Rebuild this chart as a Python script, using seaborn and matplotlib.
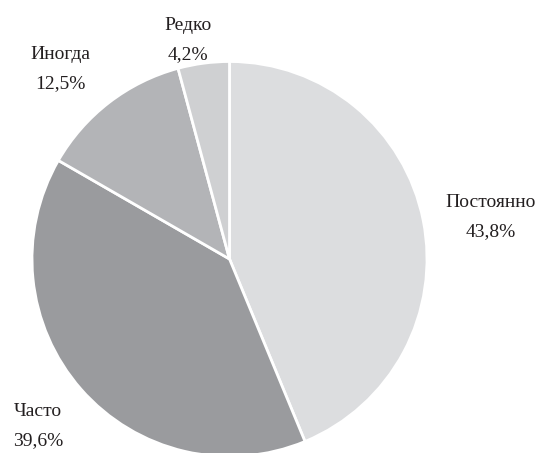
import matplotlib
matplotlib.use("Agg")
import matplotlib.pyplot as plt
import seaborn as sns

# data
categories = ["Постоянно", "Часто", "Иногда", "Редко"]
shares = [43.8, 39.6, 12.5, 4.2]
colors = ["#dcdddf", "#9a9b9e", "#b3b4b7", "#cfd0d2"]

# label layout: (x centre, baseline of the name line), pixels from top-left
label_pos = [(491, 207), (38, 416), (60, 59), (188, 30)]
line_gap = 29

sns.set_theme(style="white")
plt.rcParams["font.family"] = ["Liberation Serif", "DejaVu Serif"]

W, H = 547, 453
fig = plt.figure(figsize=(W / 100, H / 100), dpi=100)
ax = fig.add_axes([0, 0, 1, 1])

text_style = dict(fontsize=14, color="#231f20")

wedges, texts = ax.pie(
    shares,
    labels=categories,
    colors=colors,
    startangle=90,
    counterclock=False,
    center=(229.5, H - 259),
    radius=197.5,
    wedgeprops=dict(edgecolor="white", linewidth=2),
    textprops=text_style,
    frame=True,
)

for t, v, (x, y) in zip(texts, shares, label_pos):
    t.set_position((x, H - y))
    t.set_ha("center")
    t.set_va("baseline")
    pct = f"{v:.1f}".replace(".", ",") + "%"
    ax.text(x, H - y - line_gap, pct, ha="center", va="baseline", **text_style)

ax.set_xlim(0, W)
ax.set_ylim(0, H)
ax.set_aspect("equal")
ax.axis("off")

fig.savefig("out.png", dpi=100, facecolor="white")
